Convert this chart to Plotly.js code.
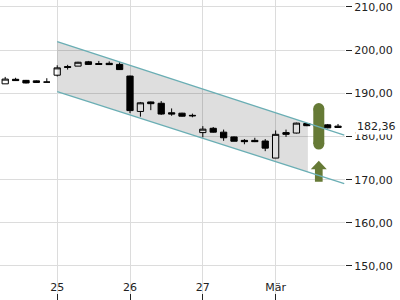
<!DOCTYPE html>
<html>
<head>
<meta charset="utf-8">
<script src="https://cdn.plot.ly/plotly-3.0.1.min.js"></script>
<style>html,body{margin:0;padding:0;background:#fff;}#chart{width:400px;height:300px;}</style>
</head>
<body>
<div id="chart"></div>
<script>
// ---- data ----
const candleIndex = [0,1,2,3,4,5,6,7,8,9,10,11,12,13,14,15,16,17,18,19,20,21,22,23,24,25,26,27,28,29,30,31,32];
const openVals  = [192.2,193.25,193.0,192.5,192.6,194.2,196.2,196.3,197.3,196.9,196.95,196.7,194.0,185.8,188.0,187.7,185.5,185.4,184.9,180.9,181.9,181.0,179.9,179.1,179.1,178.95,175.0,180.9,180.8,183.0,182.6,182.7,182.4];
const highVals  = [193.8,193.6,193.1,193.0,193.5,196.5,196.6,197.3,197.5,197.5,197.4,197.2,194.1,188.0,188.1,188.2,186.5,185.5,185.3,182.4,182.2,181.6,180.0,179.4,179.7,179.4,181.4,181.6,183.2,183.0,182.9,182.9,182.9];
const lowVals   = [192.2,192.95,192.3,192.4,192.6,193.9,195.5,196.3,196.6,196.6,196.6,195.4,185.4,184.6,186.1,185.0,184.8,184.6,184.45,179.8,180.9,179.0,178.9,178.2,178.7,176.6,175.0,179.9,180.7,182.4,181.9,181.9,182.0];
const closeVals = [193.3,192.95,192.4,192.9,192.6,195.9,196.0,197.2,196.7,196.7,196.65,195.5,186.0,187.8,187.6,185.2,185.2,184.7,184.8,181.7,181.0,179.7,178.9,178.8,178.8,177.3,180.5,180.5,183.1,182.5,182.3,182.0,182.1];

const tickIndex = [5, 12, 19, 26];
const tickText  = ['25', '26', '27', 'Mär'];

const channelX     = [5, 32.6];
const channelUpper = [202.0, 180.3];
const channelLower = [190.4, 169.1];
const channelFillEnd = 29.1;

const signalIndex = 30.15;
const signalBar   = [186.46, 178.26];
const signalArrow = [174.4, 172.4, 169.5]; // tip, head base, tail

const lastPrice = 182.36;

// ---- helpers ----
function lineAt(xs, ys, x) {
  return ys[0] + (ys[1] - ys[0]) * (x - xs[0]) / (xs[1] - xs[0]);
}
const FONT = 'DejaVu Sans, sans-serif';
const green = '#667a36';
const teal = '#6aaeb4';

const fillX = [channelX[0], channelFillEnd, channelFillEnd, channelX[0], channelX[0]];
const fillY = [channelUpper[0], lineAt(channelX, channelUpper, channelFillEnd),
               lineAt(channelX, channelLower, channelFillEnd), channelLower[0], channelUpper[0]];

const headHalf = 0.77, shaftHalf = 0.37;
const arrowX = [signalIndex, signalIndex + headHalf, signalIndex + shaftHalf, signalIndex + shaftHalf,
                signalIndex - shaftHalf, signalIndex - shaftHalf, signalIndex - headHalf, signalIndex];
const arrowY = [signalArrow[0], signalArrow[1], signalArrow[1], signalArrow[2],
                signalArrow[2], signalArrow[1], signalArrow[1], signalArrow[0]];

const traces = [
  {type:'scatter', x: fillX, y: fillY, mode:'lines', fill:'toself',
   fillcolor:'rgba(0,0,0,0.13)', line:{width:0}, hoverinfo:'skip', showlegend:false},
  {type:'scatter', x:[signalIndex, signalIndex], y: signalBar, mode:'lines+markers',
   line:{color:green, width:11}, marker:{color:green, size:11}, hoverinfo:'skip', showlegend:false},
  {type:'scatter', x: arrowX, y: arrowY, mode:'lines', fill:'toself', fillcolor:green,
   line:{width:0, color:green}, hoverinfo:'skip', showlegend:false},
  {type:'scatter', x: channelX, y: channelUpper, mode:'lines', line:{color:teal, width:1.3},
   hoverinfo:'skip', showlegend:false},
  {type:'scatter', x: channelX, y: channelLower, mode:'lines', line:{color:teal, width:1.3},
   hoverinfo:'skip', showlegend:false},
  {type:'candlestick', x: candleIndex, open: openVals, high: highVals, low: lowVals, close: closeVals,
   increasing:{line:{color:'#000', width:1}, fillcolor:'#ffffff'},
   decreasing:{line:{color:'#000', width:1}, fillcolor:'#000000'},
   whiskerwidth:0, showlegend:false, hoverinfo:'skip'}
];

const layout = {
  width:400, height:300,
  margin:{l:0, r:55, t:0, b:0, pad:0},
  paper_bgcolor:'#fff', plot_bgcolor:'#fff',
  separators:',.',
  boxgap:0.14,
  showlegend:false,
  font:{family:FONT, size:11, color:'#222'},
  xaxis:{
    range:[-0.5, 32.67], tickmode:'array', tickvals: tickIndex, ticktext: tickText,
    showgrid:true, gridcolor:'#dcdcdc', gridwidth:1, zeroline:false, showline:false,
    ticks:'inside', ticklen:6, tickwidth:1, tickcolor:'#222',
    ticklabelposition:'inside', tickfont:{family:FONT, size:11, color:'#222'},
    rangeslider:{visible:false}, fixedrange:true
  },
  yaxis:{
    side:'right', range:[142.12, 211.62], tickmode:'linear', tick0:0, dtick:10,
    tickformat:'.2f', showgrid:true, gridcolor:'#dcdcdc', gridwidth:1,
    zeroline:false, showline:false, ticks:'outside', ticklen:6, tickwidth:1, tickcolor:'#222',
    tickfont:{family:FONT, size:11, color:'#222'}, fixedrange:true
  },
  shapes:[
    {type:'rect', xref:'paper', yref:'paper', x0:0, x1:1, y0:0, y1:20/300,
     fillcolor:'#ffffff', line:{width:0}, layer:'between'}
  ],
  annotations:[
    {xref:'paper', yref:'y', x:1, y:lastPrice, xanchor:'left', yanchor:'middle', xshift:10,
     text: lastPrice.toFixed(2).replace('.', ','), showarrow:false, bgcolor:'#ffffff',
     borderpad:1, font:{family:FONT, size:11, color:'#222'}}
  ]
};

Plotly.newPlot('chart', traces, layout, {staticPlot:true, displayModeBar:false});
</script>
</body>
</html>
